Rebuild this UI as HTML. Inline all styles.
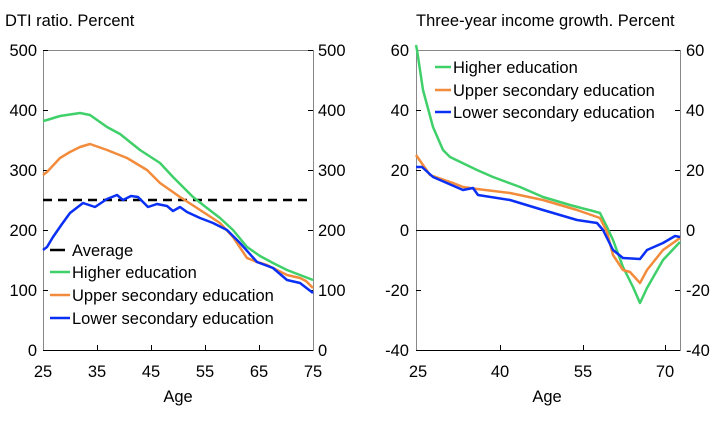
<!DOCTYPE html>
<html><head><meta charset="utf-8"><style>
body{margin:0;background:#fff;}
svg{display:block;font-family:"Liberation Sans",sans-serif;}
text{font-size:16.5px;fill:#000;}
</style></head><body>
<svg width="722" height="424" viewBox="0 0 722 424" xmlns="http://www.w3.org/2000/svg">
<text x="5" y="26">DTI ratio. Percent</text>
<text x="416" y="26">Three-year income growth. Percent</text>
<g stroke="#000" stroke-width="1" fill="none">
<rect x="43.5" y="50.5" width="270" height="300" stroke="#888"/>
<path d="M43 350.5H313"/>
<path d="M43 50.5h5M43 110.5h5M43 170.5h5M43 230.5h5M43 290.5h5M313 50.5h-5M313 110.5h-5M313 170.5h-5M313 230.5h-5M313 290.5h-5"/>
<path d="M97.5 350v-5M151.5 350v-5M205.5 350v-5M259.5 350v-5"/>
</g>
<g text-anchor="end">
<text x="37" y="56">500</text><text x="37" y="116">400</text><text x="37" y="176">300</text><text x="37" y="236">200</text><text x="37" y="296">100</text><text x="37" y="356">0</text>
</g>
<g>
<text x="318" y="56">500</text><text x="318" y="116">400</text><text x="318" y="176">300</text><text x="318" y="236">200</text><text x="318" y="296">100</text><text x="318" y="356">0</text>
</g>
<g text-anchor="middle">
<text x="43" y="377">25</text><text x="97" y="377">35</text><text x="151" y="377">45</text><text x="205" y="377">55</text><text x="259" y="377">65</text><text x="313" y="377">75</text>
<text x="178" y="402">Age</text>
</g>
<path d="M43 200H313" stroke="#000" stroke-width="2.5" stroke-dasharray="9,6" fill="none"/>
<g fill="none" stroke-width="2.5" stroke-linejoin="round">
<polyline stroke="#3fd06a" points="43,121 47,120 60,116 80,113 90,115 107,127 120,134 140,150 160,163 173,177 193,197 207,208 220,218 233,230 247,247 260,256 273,263 287,270 300,275 313,280"/>
<polyline stroke="#f28c3c" points="43,175 47,172 60,158 70,152 80,147 90,144 107,150 127,158 147,170 160,183 180,197 197,208 220,223 233,237 247,258 257,262 267,265 287,275 300,278 306,281 313,288"/>
<polyline stroke="#0a2ff5" points="43,250 47,247 53,237 62,224 70,213 83,203 95,207 107,199 117,195 123,200 131,196 138,197 148,207 157,204 167,206 173,211 180,207 187,212 200,218 213,223 227,230 240,243 257,262 273,268 287,280 300,283 313,293"/>
</g>
<g fill="none" stroke-width="2.5">
<path d="M50 250h15" stroke="#000"/>
<path d="M50 272h20" stroke="#3fd06a"/>
<path d="M50 295h20" stroke="#f28c3c"/>
<path d="M50 318h20" stroke="#0a2ff5"/>
</g>
<text x="72" y="256">Average</text>
<text x="72" y="278">Higher education</text>
<text x="72" y="301">Upper secondary education</text>
<text x="72" y="324">Lower secondary education</text>

<g stroke="#000" stroke-width="1" fill="none">
<rect x="416.5" y="50.5" width="264" height="300" stroke="#888"/>
<path d="M416 230.5H680"/>
<path d="M416 350.5H680"/>
<path d="M416 110.5h5M416 170.5h5M416 290.5h5M680 110.5h-5M680 170.5h-5M680 290.5h-5M680 50.5h-5M680 350.5h-5"/>
<path d="M500.5 350v-5M583.5 350v-5M665.5 350v-5"/>
</g>
<g text-anchor="end">
<text x="409" y="56">60</text><text x="409" y="116">40</text><text x="409" y="176">20</text><text x="409" y="236">0</text><text x="409" y="296">-20</text><text x="409" y="356">-40</text>
</g>
<g>
<text x="686" y="56">60</text><text x="686" y="116">40</text><text x="686" y="176">20</text><text x="686" y="236">0</text><text x="686" y="296">-20</text><text x="686" y="356">-40</text>
</g>
<g text-anchor="middle">
<text x="418" y="377">25</text><text x="500" y="377">40</text><text x="583" y="377">55</text><text x="665" y="377">70</text>
<text x="547" y="402">Age</text>
</g>
<g fill="none" stroke-width="2.5" stroke-linejoin="round">
<polyline stroke="#3fd06a" points="416,45 417,50 423,90 433,127 443,150 450,157 477,170 493,177 520,187 543,197 570,205 585,209 593,211 600,213 607,227 613,240 623,267 633,287 640,303 647,288 663,260 680,242"/>
<polyline stroke="#f28c3c" points="416,155 430,175 453,183 463,187 477,189 510,193 543,200 577,210 600,218 607,232 613,255 623,270 630,272 640,283 647,270 663,250 680,238"/>
<polyline stroke="#0a2ff5" points="416,167 422,167 433,177 463,190 473,188 478,195 510,200 543,210 577,220 597,223 603,230 613,250 623,258 640,259 647,250 663,243 675,236 680,237"/>
</g>
<g fill="none" stroke-width="2.5">
<path d="M435 67h16" stroke="#3fd06a"/>
<path d="M435 90h16" stroke="#f28c3c"/>
<path d="M435 112h16" stroke="#0a2ff5"/>
</g>
<text x="453" y="73">Higher education</text>
<text x="453" y="96">Upper secondary education</text>
<text x="453" y="118">Lower secondary education</text>
</svg>
</body></html>
